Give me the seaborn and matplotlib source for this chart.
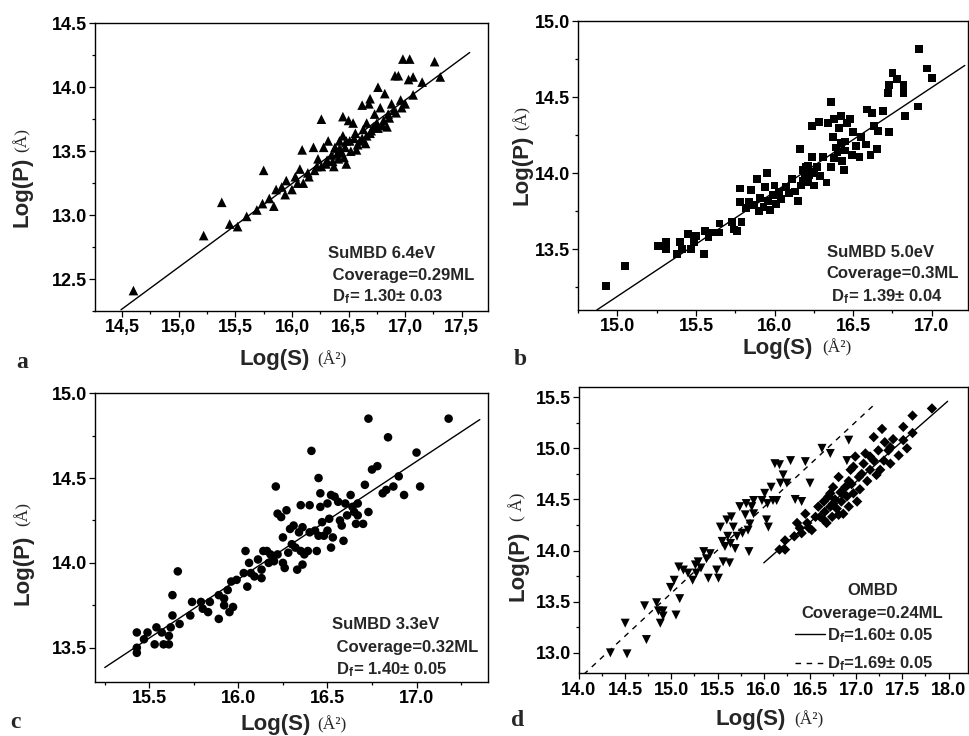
"""
Fractal dimension plots: Log(P) vs Log(S) for four deposition conditions
"""

import matplotlib
matplotlib.use('Agg')
import matplotlib.pyplot as plt
from matplotlib.ticker import MultipleLocator, FuncFormatter
from matplotlib.lines import Line2D
import numpy as np
import seaborn as sns

# ---- panel a : SuMBD 6.4eV (triangles) ----
a_logS = [14.60, 15.22, 15.38, 15.45, 15.52, 15.60, 15.69, 15.75, 15.74, 15.80,
          15.84, 15.86, 15.91, 15.95, 15.94, 16.00, 16.03, 16.07, 16.09, 16.10,
          16.14, 16.19, 16.20, 16.23, 16.26, 16.26, 16.28, 16.31, 16.32, 16.35,
          16.37, 16.38, 16.41, 16.42, 16.44, 16.45, 16.45, 16.47, 16.48, 16.50,
          16.51, 16.54, 16.56, 16.57, 16.60, 16.62, 16.63, 16.65, 16.66, 16.68,
          16.69, 16.69, 16.72, 16.73, 16.76, 16.76, 16.78, 16.81, 16.82, 16.84,
          16.85, 16.88, 16.90, 16.91, 16.94, 16.96, 16.97, 16.98, 17.00, 17.03,
          17.04, 17.07, 17.07, 17.15, 17.26, 17.31,
          16.30, 16.36, 16.40, 16.46, 16.52, 16.58, 16.62, 16.66, 16.70, 16.75,
          16.80, 16.86, 16.92, 16.15, 16.22, 16.05, 16.42, 16.48, 16.55]
a_logP = [12.41, 12.84, 13.10, 12.93, 12.91, 12.99, 13.04, 13.35, 13.09, 13.13,
          13.07, 13.20, 13.22, 13.27, 13.16, 13.20, 13.30, 13.36, 13.51, 13.25,
          13.33, 13.53, 13.35, 13.44, 13.75, 13.38, 13.53, 13.43, 13.58, 13.47,
          13.38, 13.53, 13.44, 13.58, 13.49, 13.62, 13.77, 13.53, 13.40, 13.74,
          13.58, 13.72, 13.64, 13.51, 13.58, 13.86, 13.67, 13.56, 13.72, 13.87,
          13.64, 13.91, 13.69, 13.79, 14.00, 13.68, 13.84, 13.74, 13.95, 13.69,
          13.79, 13.87, 13.82, 14.09, 14.09, 13.90, 13.84, 14.22, 13.87, 14.06,
          14.22, 13.94, 14.08, 14.04, 14.20, 14.08,
          13.40, 13.42, 13.48, 13.45, 13.50, 13.55, 13.60, 13.62, 13.66, 13.72,
          13.70, 13.76, 13.80, 13.30, 13.38, 13.25, 13.52, 13.58, 13.60]

# ---- panel b : SuMBD 5.0eV (squares) ----
b_logS = [14.93, 15.05, 15.26, 15.31, 15.31, 15.38, 15.40, 15.41, 15.45, 15.47,
          15.49, 15.50, 15.55, 15.56, 15.58, 15.61, 15.65, 15.65, 15.73, 15.74,
          15.76, 15.79, 15.78, 15.78, 15.82, 15.84, 15.85, 15.87, 15.89, 15.90,
          15.91, 15.93, 15.94, 15.95, 15.96, 15.97, 15.99, 16.00, 16.01, 16.03,
          16.04, 16.07, 16.09, 16.11, 16.13, 16.15, 16.16, 16.17, 16.18, 16.19,
          16.20, 16.21, 16.22, 16.24, 16.24, 16.25, 16.27, 16.28, 16.29, 16.31,
          16.33, 16.34, 16.36, 16.36, 16.37, 16.38, 16.39, 16.41, 16.42, 16.43,
          16.44, 16.45, 16.46, 16.48, 16.49, 16.50, 16.52, 16.54, 16.55, 16.58,
          16.59, 16.61, 16.62, 16.63, 16.65, 16.66, 16.69, 16.72, 16.73, 16.73,
          16.75, 16.78, 16.82, 16.82, 16.83, 16.91, 16.92, 16.97, 17.00,
          16.20, 16.23, 16.21, 16.25, 16.18, 16.40, 16.42, 16.38, 16.45]
b_logP = [13.26, 13.39, 13.52, 13.50, 13.55, 13.47, 13.55, 13.50, 13.60, 13.50,
          13.55, 13.59, 13.47, 13.62, 13.58, 13.61, 13.67, 13.61, 13.68, 13.63,
          13.62, 13.68, 13.81, 13.90, 13.77, 13.81, 13.89, 13.79, 13.96, 13.75,
          13.84, 13.78, 13.91, 14.00, 13.82, 13.76, 13.86, 13.92, 13.80, 13.88,
          13.83, 13.91, 13.87, 13.96, 13.88, 13.82, 14.16, 13.92, 14.02, 13.98,
          14.04, 13.94, 13.99, 14.31, 14.11, 13.92, 14.04, 14.34, 13.98, 14.11,
          13.94, 14.33, 14.47, 14.04, 14.24, 14.36, 14.17, 14.30, 14.38, 14.08,
          14.02, 14.21, 14.33, 14.36, 14.12, 14.27, 14.18, 14.11, 14.24, 14.19,
          14.42, 14.12, 14.40, 14.31, 14.16, 14.28, 14.41, 14.53, 14.27, 14.58,
          14.66, 14.62, 14.58, 14.53, 14.38, 14.44, 14.82, 14.69, 14.63,
          13.97, 14.01, 14.05, 14.00, 13.95, 14.14, 14.20, 14.10, 14.15]

# ---- panel c : SuMBD 3.3eV (circles) ----
c_logS = [15.43, 15.43, 15.43, 15.47, 15.49, 15.53, 15.54, 15.57, 15.58, 15.61,
          15.61, 15.62, 15.63, 15.63, 15.66, 15.67, 15.74, 15.73, 15.79, 15.80,
          15.84, 15.83, 15.89, 15.89, 15.92, 15.92, 15.95, 15.94, 15.96, 15.97,
          15.99, 16.03, 16.04, 16.05, 16.06, 16.07, 16.09, 16.11, 16.13, 16.13,
          16.14, 16.16, 16.17, 16.18, 16.20, 16.21, 16.22, 16.22, 16.24, 16.25,
          16.25, 16.26, 16.27, 16.28, 16.29, 16.30, 16.31, 16.32, 16.33, 16.34,
          16.35, 16.35, 16.36, 16.36, 16.37, 16.39, 16.40, 16.41, 16.40, 16.43,
          16.44, 16.45, 16.45, 16.46, 16.46, 16.47, 16.48, 16.50, 16.50, 16.51,
          16.52, 16.52, 16.53, 16.54, 16.56, 16.57, 16.58, 16.59, 16.60, 16.61,
          16.63, 16.64, 16.65, 16.66, 16.67, 16.67, 16.70, 16.71, 16.73, 16.73,
          16.75, 16.78, 16.81, 16.83, 16.84, 16.87, 16.90, 16.93, 17.00, 17.02,
          17.18]
c_logP = [13.59, 13.50, 13.47, 13.55, 13.59, 13.52, 13.62, 13.59, 13.52, 13.52,
          13.57, 13.62, 13.69, 13.81, 13.95, 13.64, 13.77, 13.69, 13.77, 13.73,
          13.77, 13.71, 13.67, 13.81, 13.79, 13.75, 13.71, 13.84, 13.89, 13.74,
          13.90, 13.94, 14.07, 13.86, 14.00, 13.94, 13.92, 14.02, 13.91, 13.96,
          14.07, 14.07, 14.00, 14.05, 14.01, 14.45, 14.05, 14.29, 14.27, 14.00,
          14.15, 13.97, 14.31, 14.06, 14.20, 14.11, 14.22, 14.09, 13.96, 14.18,
          14.34, 14.07, 14.21, 13.99, 14.05, 14.07, 14.34, 14.66, 14.18, 14.19,
          14.07, 14.16, 14.50, 14.41, 14.33, 14.24, 14.16, 14.35, 14.19, 14.26,
          14.40, 14.09, 14.15, 14.39, 14.36, 14.25, 14.22, 14.13, 14.35, 14.28,
          14.40, 14.33, 14.30, 14.23, 14.35, 14.28, 14.23, 14.46, 14.30, 14.85,
          14.55, 14.57, 14.41, 14.43, 14.74, 14.45, 14.51, 14.40, 14.65, 14.45,
          14.85]

# ---- panel d : OMBD, two populations ----
d_tri_logS = [14.34, 14.50, 14.52, 14.71, 14.73, 14.84, 14.86, 14.88, 14.91, 14.91,
              14.99, 15.03, 15.05, 15.09, 15.08, 15.13, 15.18, 15.23, 15.26, 15.27,
              15.29, 15.32, 15.35, 15.38, 15.40, 15.42, 15.49, 15.51, 15.53, 15.55,
              15.56, 15.58, 15.60, 15.61, 15.63, 15.64, 15.65, 15.67, 15.69, 15.71,
              15.74, 15.77, 15.80, 15.81, 15.83, 15.84, 15.85, 15.87, 15.89, 15.89,
              15.98, 16.01, 16.03, 16.04, 16.05, 16.08, 16.10, 16.12, 16.14, 16.17,
              16.18, 16.21, 16.25, 16.29, 16.34, 16.41, 16.45, 16.50, 16.63, 16.72,
              16.92, 16.90]
d_tri_logP = [13.00, 13.29, 12.99, 13.46, 13.13, 13.49, 13.41, 13.29, 13.36, 13.41,
              13.64, 13.71, 13.37, 13.53, 13.84, 13.81, 13.78, 13.71, 13.86, 13.78,
              13.89, 13.83, 13.99, 13.92, 13.73, 13.97, 13.81, 13.73, 14.23, 14.09,
              13.89, 14.04, 14.30, 14.14, 13.88, 14.07, 14.33, 14.23, 14.02, 14.14,
              14.43, 14.17, 14.35, 14.46, 14.20, 13.99, 14.26, 14.43, 14.49, 14.36,
              14.49, 14.56, 14.30, 14.46, 14.23, 14.62, 14.49, 14.85, 14.49, 14.84,
              14.66, 14.74, 14.66, 14.88, 14.50, 14.48, 14.87, 14.66, 15.00, 14.95,
              15.08, 14.88]
d_dia_logS = [16.17, 16.23, 16.23, 16.33, 16.36, 16.39, 16.41, 16.45, 16.47, 16.49,
              16.52, 16.56, 16.59, 16.61, 16.65, 16.66, 16.68, 16.70, 16.72, 16.74,
              16.75, 16.77, 16.79, 16.81, 16.83, 16.84, 16.86, 16.88, 16.90, 16.92,
              16.94, 16.95, 16.97, 16.99, 17.01, 17.03, 17.04, 17.08, 17.10, 17.12,
              17.15, 17.19, 17.19, 17.22, 17.24, 17.28, 17.30, 17.31, 17.35, 17.37,
              17.40, 17.46, 17.51, 17.51, 17.55, 17.61, 17.61, 17.82,
              16.75, 16.81, 16.86, 16.92, 16.97, 17.06, 17.15, 17.26, 17.37, 16.65,
              16.72]
d_dia_logP = [14.01, 14.01, 14.10, 14.14, 14.27, 14.22, 14.17, 14.36, 14.27, 14.22,
              14.20, 14.33, 14.43, 14.33, 14.48, 14.38, 14.27, 14.53, 14.43, 14.33,
              14.62, 14.50, 14.41, 14.72, 14.57, 14.48, 14.36, 14.62, 14.53, 14.43,
              14.79, 14.65, 14.56, 14.92, 14.48, 14.72, 14.60, 14.85, 14.95, 14.68,
              14.79, 14.88, 15.11, 14.74, 14.98, 15.19, 14.88, 15.06, 14.98, 14.85,
              15.09, 14.93, 15.21, 15.08, 15.00, 15.32, 15.15, 15.39,
              14.46, 14.35, 14.56, 14.68, 14.82, 14.75, 14.92, 14.79, 15.01, 14.30,
              14.56]

# linear fits: (slope, intercept, x_start, x_end)
fit_a = (0.653, 2.798, 14.49, 17.57)
fit_b = (0.688, 2.870, 14.87, 17.21)
fit_c = (0.694, 2.800, 15.25, 17.355)
fit_d_dia = (0.794, 1.176, 16.00, 17.99)
fit_d_tri = (0.839, 1.000, 14.05, 17.21)

# annotation texts
notes_a = ['SuMBD 6.4eV', ' Coverage=0.29ML', r' D$_{f}$= 1.30$\pm$ 0.03']
notes_b = ['SuMBD 5.0eV', 'Coverage=0.3ML', r' D$_{f}$= 1.39$\pm$ 0.04']
notes_c = ['SuMBD 3.3eV', ' Coverage=0.32ML', r' D$_{f}$= 1.40$\pm$ 0.05']
legend_d = [r'D$_{f}$=1.60$\pm$ 0.05', r'D$_{f}$=1.69$\pm$ 0.05']

sns.set_style('ticks')
plt.rcParams['font.family'] = ['Liberation Sans', 'DejaVu Sans']
plt.rcParams['font.weight'] = 'bold'
plt.rcParams['mathtext.fontset'] = 'custom'
plt.rcParams['mathtext.rm'] = 'Liberation Sans:bold'
plt.rcParams['mathtext.it'] = 'Liberation Sans:bold'
plt.rcParams['mathtext.bf'] = 'Liberation Sans:bold'
plt.rcParams['axes.edgecolor'] = 'black'
plt.rcParams['axes.linewidth'] = 1.0
plt.rcParams['xtick.color'] = 'black'
plt.rcParams['ytick.color'] = 'black'
plt.rcParams['xtick.major.size'] = 4
plt.rcParams['ytick.major.size'] = 4
plt.rcParams['xtick.minor.size'] = 2.5
plt.rcParams['ytick.minor.size'] = 2.5
plt.rcParams['xtick.major.width'] = 0.9
plt.rcParams['ytick.major.width'] = 0.9
plt.rcParams['xtick.minor.width'] = 0.9
plt.rcParams['ytick.minor.width'] = 0.9

fig = plt.figure(figsize=(9.7, 7.36), dpi=100)
ax_a = fig.add_axes([0.0979, 0.5774, 0.405, 0.391])
ax_b = fig.add_axes([0.5959, 0.5788, 0.402, 0.392])
ax_c = fig.add_axes([0.0979, 0.0738, 0.405, 0.392])
ax_d = fig.add_axes([0.5969, 0.0852, 0.401, 0.389])

TICK_FS = 13
LAB_FS = 16
UNIT_FS = 12.5
NOTE_FS = 12


def draw_fit(ax, fit, ls='-'):
    slope, icpt, x0, x1 = fit
    xs = np.array([x0, x1])
    ax.plot(xs, slope * xs + icpt, color='black', lw=1.0, ls=ls)


def style_axes(ax, xlim, ylim, comma=False):
    ax.set_xlim(*xlim)
    ax.set_ylim(*ylim)
    ax.xaxis.set_major_locator(MultipleLocator(0.5))
    ax.xaxis.set_minor_locator(MultipleLocator(0.25))
    ax.yaxis.set_major_locator(MultipleLocator(0.5))
    ax.yaxis.set_minor_locator(MultipleLocator(0.25))
    if comma:
        ax.xaxis.set_major_formatter(FuncFormatter(lambda v, p: f'{v:.1f}'.replace('.', ',')))
    else:
        ax.xaxis.set_major_formatter(FuncFormatter(lambda v, p: f'{v:.1f}'))
    ax.yaxis.set_major_formatter(FuncFormatter(lambda v, p: f'{v:.1f}'))
    ax.tick_params(axis='both', which='both', direction='out', labelsize=TICK_FS, pad=2)
    for lab in ax.get_xticklabels() + ax.get_yticklabels():
        lab.set_fontweight('bold')
    ax.set_xlabel('')
    ax.set_ylabel('')
    for sp in ax.spines.values():
        sp.set_visible(True)
        sp.set_color('black')


def axis_titles(ax, ylog_xy, yunit_xy, xlog_xy, xunit_xy, yunit='(Å)'):
    ax.text(*ylog_xy, 'Log(P)', transform=ax.transAxes, rotation=90,
            ha='center', va='center', fontsize=LAB_FS, fontweight='bold')
    ax.text(*yunit_xy, yunit, transform=ax.transAxes, rotation=90,
            ha='center', va='center', fontsize=UNIT_FS, fontweight='normal',
            family='Liberation Serif')
    ax.text(*xlog_xy, 'Log(S)', transform=ax.transAxes,
            ha='center', va='center', fontsize=LAB_FS, fontweight='bold')
    ax.text(*xunit_xy, '(Å²)', transform=ax.transAxes,
            ha='center', va='center', fontsize=UNIT_FS, fontweight='normal',
            family='Liberation Serif')


def notes(ax, lines, positions):
    for txt, (x, y) in zip(lines, positions):
        ax.text(x, y, txt, transform=ax.transAxes, ha='left', va='center',
                fontsize=NOTE_FS, fontweight='bold')


# panel a
sns.scatterplot(x=a_logS, y=a_logP, marker='^', s=48, color='black',
                edgecolor='none', ax=ax_a)
draw_fit(ax_a, fit_a)
style_axes(ax_a, (14.26, 17.73), (12.25, 14.5), comma=True)
axis_titles(ax_a, (-0.186, 0.413), (-0.186, 0.595), (0.457, -0.17), (0.603, -0.17))
notes(ax_a, notes_a, [(0.593, 0.20), (0.593, 0.125), (0.593, 0.049)])

# panel b
sns.scatterplot(x=b_logS, y=b_logP, marker='s', s=32, color='black',
                edgecolor='none', ax=ax_b)
draw_fit(ax_b, fit_b)
style_axes(ax_b, (14.75, 17.23), (13.1, 15.0))
axis_titles(ax_b, (-0.144, 0.486), (-0.144, 0.665), (0.513, -0.132), (0.664, -0.132))
notes(ax_b, notes_b, [(0.638, 0.20), (0.638, 0.125), (0.638, 0.045)])

# panel c
sns.scatterplot(x=c_logS, y=c_logP, marker='o', s=38, color='black',
                edgecolor='none', ax=ax_c)
draw_fit(ax_c, fit_c)
style_axes(ax_c, (15.195, 17.40), (13.30, 15.0))
axis_titles(ax_c, (-0.183, 0.387), (-0.183, 0.580), (0.46, -0.15), (0.603, -0.15))
notes(ax_c, notes_c, [(0.603, 0.197), (0.603, 0.119), (0.603, 0.043)])

# panel d
sns.scatterplot(x=d_tri_logS, y=d_tri_logP, marker='v', s=42, color='black',
                edgecolor='none', ax=ax_d)
sns.scatterplot(x=d_dia_logS, y=d_dia_logP, marker='D', s=28, color='black',
                edgecolor='none', ax=ax_d)
draw_fit(ax_d, fit_d_dia)
draw_fit(ax_d, fit_d_tri, ls=(0, (4, 4)))
style_axes(ax_d, (14.0, 18.21), (12.8, 15.6))
axis_titles(ax_d, (-0.157, 0.374), (-0.157, 0.582), (0.442, -0.163), (0.591, -0.163),
            yunit='( Å)')
ax_d.text(0.756, 0.29, 'OMBD', transform=ax_d.transAxes, ha='center', va='center',
          fontsize=NOTE_FS, fontweight='bold')
ax_d.text(0.753, 0.21, 'Coverage=0.24ML', transform=ax_d.transAxes, ha='center',
          va='center', fontsize=NOTE_FS, fontweight='bold')
handles = [Line2D([], [], color='black', lw=1.0, ls='-'),
           Line2D([], [], color='black', lw=1.0, ls=(0, (4, 4)))]
leg = ax_d.legend(handles, legend_d, loc='lower left', bbox_to_anchor=(0.555, 0.0),
                  frameon=False, handlelength=1.8, handletextpad=0.15,
                  labelspacing=0.6, borderpad=0, borderaxespad=0,
                  prop={'size': NOTE_FS, 'weight': 'bold'})

# panel letters
for letter, (fx, fy) in zip('abcd', [(0.0227, 0.508), (0.536, 0.511),
                                     (0.0155, 0.0177), (0.534, 0.0217)]):
    fig.text(fx, fy, letter, ha='center', va='center', fontsize=17,
             fontweight='bold', family='Liberation Serif')

fig.savefig('out.png', dpi=100)
